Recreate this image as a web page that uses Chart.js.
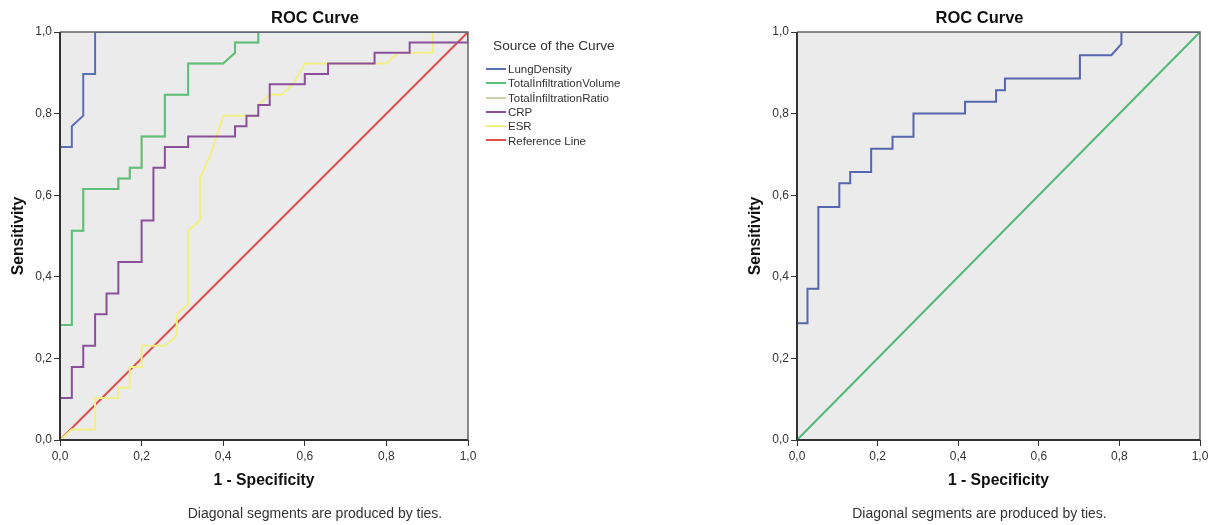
<!DOCTYPE html>
<html><head><meta charset="utf-8">
<script src="https://cdn.jsdelivr.net/npm/chart.js@4.4.1/dist/chart.umd.min.js"></script>
<style>
html,body{margin:0;padding:0;background:#fff;}
#wrap{position:relative;width:1222px;height:525px;overflow:hidden;font-family:"Liberation Sans",Arial,sans-serif;background:#fff;}
#c1{position:absolute;left:0;top:0;}
#c2{position:absolute;left:737px;top:0;}
.lg{position:absolute;white-space:nowrap;color:#333;}
.lt{font-size:13.7px;height:16px;line-height:16px;}
.li{font-size:11.5px;height:14px;line-height:14px;}
.sw{display:inline-block;width:20px;height:2px;vertical-align:middle;margin-right:2px;position:relative;top:-1px;}
</style></head><body>
<div id="wrap">
<canvas id="c1" width="630" height="525"></canvas>
<canvas id="c2" width="485" height="525"></canvas>
</div>
<script>
// ---- data ----
const tickValues = [0, 0.2, 0.4, 0.6, 0.8, 1.0];
const leftNames = ['LungDensity', 'TotalİnfiltrationVolume', 'TotalİnfiltrationRatio', 'CRP', 'ESR', 'Reference Line'];
const rightNames = ['LungDensity', 'Reference Line'];

const lungDensity = [[0,0],[0,0.718],[0.029,0.718],[0.029,0.769],[0.057,0.795],[0.057,0.897],[0.086,0.897],[0.086,1],[1,1]];
const totalInfiltrationVolume = [[0,0],[0,0.282],[0.029,0.282],[0.029,0.513],[0.057,0.513],[0.057,0.615],[0.143,0.615],[0.143,0.641],[0.171,0.641],[0.171,0.667],[0.2,0.667],[0.2,0.744],[0.257,0.744],[0.257,0.846],[0.314,0.846],[0.314,0.923],[0.4,0.923],[0.429,0.949],[0.429,0.974],[0.486,0.974],[0.486,1],[1,1]];
const totalInfiltrationRatio = [[0,0],[0,0.282],[0.029,0.282],[0.029,0.513],[0.057,0.513],[0.057,0.615],[0.143,0.615],[0.143,0.641],[0.171,0.641],[0.171,0.667],[0.2,0.667],[0.2,0.744],[0.257,0.744],[0.257,0.846],[0.314,0.846],[0.314,0.923],[0.4,0.923],[0.429,0.949],[0.429,0.974],[0.486,0.974],[0.486,1],[1,1]];
const crp = [[0,0],[0,0.103],[0.029,0.103],[0.029,0.179],[0.057,0.179],[0.057,0.231],[0.086,0.231],[0.086,0.308],[0.114,0.308],[0.114,0.359],[0.143,0.359],[0.143,0.436],[0.2,0.436],[0.2,0.538],[0.229,0.538],[0.229,0.667],[0.257,0.667],[0.257,0.718],[0.314,0.718],[0.314,0.744],[0.429,0.744],[0.429,0.769],[0.457,0.769],[0.457,0.795],[0.486,0.795],[0.486,0.821],[0.514,0.821],[0.514,0.872],[0.6,0.872],[0.6,0.897],[0.657,0.897],[0.657,0.923],[0.771,0.923],[0.771,0.949],[0.857,0.949],[0.857,0.974],[1,0.974],[1,1]];
const esr = [[0,0],[0.029,0.026],[0.086,0.026],[0.086,0.103],[0.143,0.103],[0.143,0.128],[0.171,0.128],[0.171,0.179],[0.2,0.179],[0.2,0.231],[0.257,0.231],[0.286,0.256],[0.286,0.308],[0.314,0.333],[0.314,0.513],[0.343,0.538],[0.343,0.641],[0.371,0.705],[0.4,0.795],[0.486,0.795],[0.486,0.821],[0.514,0.846],[0.543,0.846],[0.571,0.872],[0.6,0.923],[0.8,0.923],[0.829,0.949],[0.914,0.949],[0.914,1],[1,1]];
const referenceLine = [[0,0],[1,1]];

const lungDensityRight = [[0,0],[0,0.286],[0.026,0.286],[0.026,0.371],[0.053,0.371],[0.053,0.571],[0.105,0.571],[0.105,0.629],[0.132,0.629],[0.132,0.657],[0.184,0.657],[0.184,0.714],[0.237,0.714],[0.237,0.743],[0.289,0.743],[0.289,0.8],[0.417,0.8],[0.417,0.829],[0.494,0.829],[0.494,0.857],[0.516,0.857],[0.516,0.886],[0.702,0.886],[0.702,0.943],[0.78,0.943],[0.805,0.971],[0.805,1],[1,1]];
const referenceLineRight = [[0,0],[1,1]];

// ---- styling ----
const FAM = '"Liberation Sans", Arial, sans-serif';
const leftColors = ['#5a6eb4', '#5cc07c', '#cfcfaa', '#8b4f9c', '#f2ef86', '#e0504f'];
const rightColors = ['#5466ae', '#4fb975'];
const fmt = v => Number(v).toFixed(1).replace('.', ',');
const toPts = a => a.map(p => ({x: p[0], y: p[1]}));

const framePlugin = {
  id: 'frame',
  beforeDraw(chart) {
    const {ctx, chartArea: a} = chart;
    ctx.save();
    ctx.fillStyle = '#ebebeb';
    ctx.fillRect(a.left, a.top, a.right - a.left, a.bottom - a.top);
    ctx.restore();
  },
  afterDatasetsDraw(chart) {
    const {ctx, chartArea: a} = chart;
    ctx.save();
    ctx.lineWidth = 1.5;
    ctx.strokeStyle = '#666';
    ctx.beginPath();
    ctx.moveTo(a.left, a.top); ctx.lineTo(a.right, a.top); ctx.lineTo(a.right, a.bottom);
    ctx.stroke();
    ctx.lineWidth = 2;
    ctx.strokeStyle = '#333';
    ctx.beginPath();
    ctx.moveTo(a.left, a.top); ctx.lineTo(a.left, a.bottom); ctx.lineTo(a.right, a.bottom);
    ctx.stroke();
    ctx.restore();
  }
};

const TITLE_SIZE = 15.7;
function axis(titleText, isX) {
  return {
    type: 'linear', min: 0, max: 1,
    afterBuildTicks: s => { s.ticks = tickValues.map(v => ({value: v})); },
    afterFit: s => { if (isX) s.height = 60; else s.width = 60; },
    border: {display: false},
    grid: {display: true, drawOnChartArea: false, drawTicks: true, tickLength: 6, color: '#333', lineWidth: 1},
    ticks: {callback: v => fmt(v), font: {size: 12, family: FAM}, color: '#333', padding: isX ? 3 : 2, maxRotation: 0, autoSkip: false},
    title: {display: true, text: titleText, font: {size: TITLE_SIZE, weight: 'bold', family: FAM}, color: '#111',
      padding: isX ? {top: 0, bottom: 9.6} : {top: 9.1, bottom: 0}}
  };
}

function spacer(w) {
  return {
    type: 'linear', position: 'right', display: true,
    ticks: {display: false}, grid: {display: false, drawTicks: false}, border: {display: false},
    title: {display: false},
    afterFit: s => { s.width = w; }
  };
}

function makeChart(id, names, series, colors, padRight) {
  return new Chart(document.getElementById(id), {
    type: 'scatter',
    data: {
      datasets: series.map((s, i) => ({
        label: names[i], data: toPts(s), showLine: true,
        borderColor: colors[i], backgroundColor: colors[i],
        borderWidth: 2, pointRadius: 0, pointHoverRadius: 0, tension: 0, fill: false
      }))
    },
    options: {
      responsive: false, animation: false, devicePixelRatio: 1,
      layout: {padding: 0},
      scales: {x: axis('1 - Specificity', true), y: axis('Sensitivity', false), pad: spacer(padRight)},
      plugins: {
        legend: {display: false},
        tooltip: {enabled: false},
        title: {display: true, text: 'ROC Curve', font: {size: 16.5, weight: 'bold', family: FAM}, color: '#111', padding: {top: 9, bottom: 3.2}},
        subtitle: {display: true, position: 'bottom', text: 'Diagonal segments are produced by ties.', font: {size: 14, family: FAM}, color: '#333', padding: {top: 5.5, bottom: 2.7}}
      }
    },
    plugins: [framePlugin]
  });
}

const chart1 = makeChart('c1', leftNames,
  [lungDensity, totalInfiltrationVolume, totalInfiltrationRatio, crp, esr, referenceLine], leftColors, 162);
const chart2 = makeChart('c2', rightNames, [lungDensityRight, referenceLineRight], rightColors, 22);

// HTML legend for the left chart, built from the chart's own legend items
const wrap = document.getElementById('wrap');
const lt = document.createElement('div');
lt.className = 'lg lt';
lt.style.left = '493px'; lt.style.top = '38px';
lt.textContent = 'Source of the Curve';
wrap.appendChild(lt);
const items = Chart.defaults.plugins.legend.labels.generateLabels(chart1);
items.forEach((it, i) => {
  const d = document.createElement('div');
  d.className = 'lg li';
  d.style.left = '486px';
  d.style.top = (62 + 14.3 * i) + 'px';
  const sw = document.createElement('span');
  sw.className = 'sw';
  sw.style.background = it.strokeStyle;
  d.appendChild(sw);
  d.appendChild(document.createTextNode(it.text));
  wrap.appendChild(d);
});
</script></body></html>
